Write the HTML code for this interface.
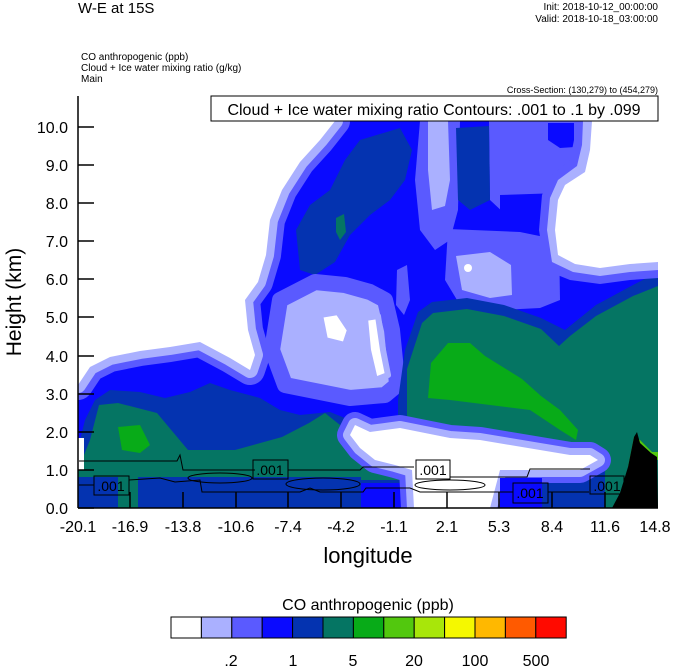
<!DOCTYPE html>
<html><head><meta charset="utf-8"><style>
html,body{margin:0;padding:0;background:#fff;}
svg{display:block;font-family:"Liberation Sans",sans-serif;}
</style></head><body>
<svg width="674" height="667" viewBox="0 0 674 667" xmlns="http://www.w3.org/2000/svg">
<defs><clipPath id="pc"><rect x="78" y="96" width="580" height="412"/></clipPath>
<polygon id="wl" points="78,96 335,96 335,121 320,140 300,162 282,190 270,220 266,255 258,282 245,300 248,330 255,355 250,370 230,358 200,342 170,347 140,351 110,357 90,367 78,385"/>
<polygon id="ww" points="355,425 370,432 400,428 420,432 450,438 480,440 510,445 540,450 570,455 590,455 598,460 580,470 540,470 500,470 490,508 414,508 412,470 395,465 375,460 360,448 350,435"/>
</defs>
<text x="78" y="13" font-size="15">W-E at 15S</text>
<text x="658" y="10" font-size="10" text-anchor="end">Init: 2018-10-12_00:00:00</text>
<text x="658" y="22" font-size="10" text-anchor="end">Valid: 2018-10-18_03:00:00</text>
<text x="81" y="60" font-size="10">CO anthropogenic   (ppb)</text>
<text x="81" y="71" font-size="10">Cloud + Ice water mixing ratio   (g/kg)</text>
<text x="81" y="82" font-size="10">Main</text>
<text x="658" y="93" font-size="9" text-anchor="end">Cross-Section: (130,279) to (454,279)</text>

<g clip-path="url(#pc)" stroke-linejoin="round">
<rect x="78" y="96" width="580" height="412" fill="#0a0aff"/>
<polygon points="420,121 460,121 458,210 450,240 435,250 420,230 415,180" fill="#5a5aff"/>
<polygon points="428,121 448,121 450,180 445,206 432,210 428,170" fill="#aab0ff"/>
<polygon points="489,121 615,121 612,200 600,228 560,232 520,228 490,200" fill="#5a5aff"/>
<polygon points="548,123 589,123 590,146 560,148 548,140" fill="#0a0aff"/>
<polygon points="500,195 590,192 593,225 560,232 500,230" fill="#0a0aff"/>
<polygon points="448,229 520,232 559,240 560,300 540,308 500,310 460,305 445,280" fill="#5a5aff"/>
<polygon points="456,256 490,252 511,265 512,295 490,298 462,290" fill="#aab0ff"/>
<circle cx="468" cy="268" r="4" fill="#fff"/>
<polygon points="300,270 296,230 310,205 330,190 345,160 360,140 400,128 412,150 405,180 390,200 370,215 350,235 335,262 315,275" fill="#0433b0"/>
<polygon points="336,218 344,214 346,232 340,240 336,232" fill="#057563"/>
<polygon points="456,128 489,126 490,200 470,210 458,200" fill="#0433b0"/>
<polygon points="280,300 315,282 345,285 370,292 385,300 392,330 395,360 397,385 385,395 350,398 320,392 285,385 272,350" fill="#aab0ff" stroke="#5a5aff" stroke-width="16"/>
<polygon points="397,270 407,265 410,300 404,315 396,305" fill="#5a5aff"/>
<polygon points="398,400 405,350 418,312 432,302 467,298 504,305 541,318 565,330 596,305 633,285 658,272 658,508 398,508" fill="#0433b0"/>
<polygon points="407,400 407,369 422,323 433,313 467,309 504,316 541,329 559,346 570,336 596,316 633,296 658,286 658,508 407,508" fill="#057563"/>
<polygon points="431,363 448,343 470,343 485,356 522,379 541,396 560,410 578,430 576,440 560,430 530,410 490,405 450,400 428,398" fill="#08ab18"/>
<polygon points="80,440 85,420 95,400 110,390 140,392 165,398 190,392 210,383 230,390 260,398 280,410 300,415 330,412 350,420 370,432 390,440 410,450 412,508 78,508" fill="#0433b0"/>
<polygon points="78,470 90,440 99,405 118,403 157,413 188,450 235,450 282,437 309,423 325,413 340,425 352,447 391,457 410,463 412,480 78,480" fill="#057563"/>
<polygon points="118,427 140,425 150,445 140,453 122,450" fill="#08ab18"/>
<rect x="78" y="477" width="283" height="31" fill="#0433b0"/>
<rect x="118" y="470" width="20" height="38" fill="#057563"/>
<rect x="361" y="483" width="53" height="25" fill="#0a0aff"/>
<rect x="542" y="470" width="75" height="38" fill="#0433b0"/>
<rect x="605" y="460" width="15" height="48" fill="#057563"/>
<use href="#wl" fill="#5a5aff" stroke="#5a5aff" stroke-width="30"/>
<use href="#wl" fill="#aab0ff" stroke="#aab0ff" stroke-width="16"/>
<use href="#wl" fill="#fff"/>
<use href="#ww" fill="#5a5aff" stroke="#5a5aff" stroke-width="26"/>
<use href="#ww" fill="#aab0ff" stroke="#aab0ff" stroke-width="14"/>
<use href="#ww" fill="#fff"/>
<polygon points="320,315 338,312 350,330 345,345 325,340" fill="#fff" stroke="#aab0ff" stroke-width="6"/>
<polygon points="365,318 378,316 383,350 388,375 375,380 368,350" fill="#fff" stroke="#aab0ff" stroke-width="6"/>
<rect x="500" y="478" width="42" height="30" fill="#0a0aff"/>
<rect x="78" y="438" width="6" height="32" fill="#fff"/>
<polygon points="628,467 634,437 640,440 652,452 658,452 658,460 646,458" fill="#52c80e"/>
<polygon points="612,508 620,493 628,467 634,437 637,432 640,443 651,453 657,457 658,508" fill="#000"/>
</g>
<!-- right upper white region, explicit nested layers -->
<polygon points="574,121 658,121 658,278 630,280 600,284 570,280 545,270 539,230 542,195 552,175 570,160 574,140" fill="#5a5aff"/>
<polygon points="583,121 658,121 658,270 630,272 600,276 573,272 552,262 547,230 550,198 558,180 577,166 582,145" fill="#aab0ff"/>
<polygon points="592,121 658,121 658,262 630,264 600,268 575,264 558,255 555,230 558,200 565,185 585,172 590,150" fill="#fff"/>

<g fill="none" stroke="#000" stroke-width="1">
<polyline points="79,461 177,461 180,455 183,470 255,470"/>
<polyline points="288,470 360,470 363,467 414,467"/>
<polyline points="450,477 527,477 530,469 590,469"/>
<polyline points="79,485 94,485"/>
<polyline points="129,480 160,478 175,482 200,480 202,492 300,492 310,488 320,492 363,492 366,488 410,488 420,492 513,492"/>
<polyline points="548,492 589,492"/>
<ellipse cx="220" cy="478" rx="32" ry="5"/>
<ellipse cx="323" cy="484" rx="37" ry="6"/>
<ellipse cx="450" cy="485" rx="35" ry="5"/>
</g>
<g font-size="14" text-anchor="middle">
<rect x="94" y="476" width="35" height="19" fill="none" stroke="#000"/><text x="111" y="491">.001</text>
<rect x="253" y="460" width="35" height="19" fill="none" stroke="#000"/><text x="270" y="475">.001</text>
<rect x="416" y="460" width="34" height="19" fill="none" stroke="#000"/><text x="433" y="475">.001</text>
<rect x="513" y="483" width="35" height="20" fill="none" stroke="#000"/><text x="530" y="498">.001</text>
<rect x="590" y="476" width="34" height="18" fill="none" stroke="#000"/><text x="607" y="491">.001</text>
</g>

<line x1="78" y1="96" x2="78" y2="508" stroke="#000" stroke-width="1.5"/>
<line x1="78" y1="508" x2="658" y2="508" stroke="#000" stroke-width="1.5"/>
<g stroke="#000" stroke-width="1.5">
<line x1="78" y1="508" x2="94" y2="508"/><line x1="78" y1="470" x2="94" y2="470"/><line x1="78" y1="432" x2="94" y2="432"/><line x1="78" y1="394" x2="94" y2="394"/><line x1="78" y1="356" x2="94" y2="356"/><line x1="78" y1="317" x2="94" y2="317"/><line x1="78" y1="279" x2="94" y2="279"/><line x1="78" y1="241" x2="94" y2="241"/><line x1="78" y1="203" x2="94" y2="203"/><line x1="78" y1="165" x2="94" y2="165"/><line x1="78" y1="127" x2="94" y2="127"/>
<line x1="130" y1="508" x2="130" y2="492"/><line x1="183" y1="508" x2="183" y2="492"/><line x1="236" y1="508" x2="236" y2="492"/><line x1="288" y1="508" x2="288" y2="492"/><line x1="341" y1="508" x2="341" y2="492"/><line x1="394" y1="508" x2="394" y2="492"/><line x1="447" y1="508" x2="447" y2="492"/><line x1="499" y1="508" x2="499" y2="492"/><line x1="552" y1="508" x2="552" y2="492"/><line x1="605" y1="508" x2="605" y2="492"/>
</g>
<g font-size="16" text-anchor="end">
<text x="68" y="514">0.0</text><text x="68" y="476">1.0</text><text x="68" y="438">2.0</text><text x="68" y="400">3.0</text><text x="68" y="362">4.0</text><text x="68" y="323">5.0</text><text x="68" y="285">6.0</text><text x="68" y="247">7.0</text><text x="68" y="209">8.0</text><text x="68" y="171">9.0</text><text x="68" y="133">10.0</text>
</g>
<g font-size="16" text-anchor="middle">
<text x="78" y="532">-20.1</text><text x="130" y="532">-16.9</text><text x="183" y="532">-13.8</text><text x="236" y="532">-10.6</text><text x="288" y="532">-7.4</text><text x="341" y="532">-4.2</text><text x="394" y="532">-1.1</text><text x="447" y="532">2.1</text><text x="499" y="532">5.3</text><text x="552" y="532">8.4</text><text x="605" y="532">11.6</text><text x="655" y="532">14.8</text>
</g>
<text x="368" y="563" font-size="22" text-anchor="middle">longitude</text>
<text transform="translate(21,302) rotate(-90)" font-size="21" text-anchor="middle">Height (km)</text>

<rect x="211" y="96" width="447" height="25" fill="#fff" stroke="#000" stroke-width="1"/>
<text x="434" y="115" font-size="16" text-anchor="middle">Cloud + Ice water mixing ratio Contours: .001 to .1 by .099</text>

<text x="368" y="610" font-size="16" text-anchor="middle">CO anthropogenic  (ppb)</text>
<g stroke="#000" stroke-width="1">
<rect x="171" y="617" width="30.4" height="21" fill="#fff"/>
<rect x="201.4" y="617" width="30.4" height="21" fill="#aab0ff"/>
<rect x="231.8" y="617" width="30.4" height="21" fill="#5a5aff"/>
<rect x="262.2" y="617" width="30.4" height="21" fill="#0a0aff"/>
<rect x="292.6" y="617" width="30.4" height="21" fill="#0433b0"/>
<rect x="323" y="617" width="30.4" height="21" fill="#057563"/>
<rect x="353.4" y="617" width="30.4" height="21" fill="#08ab18"/>
<rect x="383.8" y="617" width="30.4" height="21" fill="#52c80e"/>
<rect x="414.2" y="617" width="30.4" height="21" fill="#a8e60a"/>
<rect x="444.6" y="617" width="30.4" height="21" fill="#f5f800"/>
<rect x="475" y="617" width="30.4" height="21" fill="#ffb800"/>
<rect x="505.4" y="617" width="30.4" height="21" fill="#ff5a00"/>
<rect x="535.8" y="617" width="30.4" height="21" fill="#ff0a00"/>
</g>
<g font-size="16" text-anchor="middle">
<text x="231" y="666">.2</text><text x="293" y="666">1</text><text x="353" y="666">5</text><text x="414" y="666">20</text><text x="475" y="666">100</text><text x="536" y="666">500</text>
</g>
</svg>
</body></html>
